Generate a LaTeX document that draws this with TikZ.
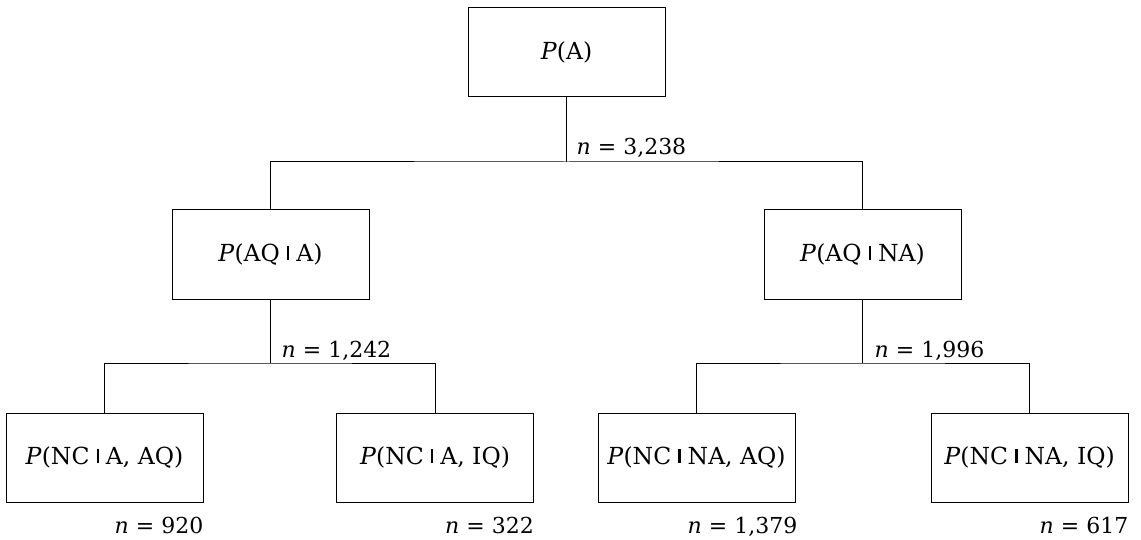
\documentclass[tikz,border=0pt]{standalone}
\usepackage{fontspec}
\setmainfont{DejaVu Serif}
\newcommand\cbar{\kern0.3em\rule[0.06em]{0.1em}{0.62em}\kern0.3em}
\begin{document}
\begin{tikzpicture}[x=1pt,y=-1pt,
  box/.style={draw, line width=1pt, minimum width=197pt, minimum height=89pt, inner sep=0pt, font=\fontsize{23.5}{28}\selectfont},
  lab/.style={font=\fontsize{22}{26}\selectfont, inner sep=0pt},
  conn/.style={line width=1pt}]
\useasboundingbox (0,0) rectangle (1141,540);
\node[box] (top) at (566.5,52) {\textit{P}(A)};
\node[box] (l) at (270.5,254.5) {\textit{P}(AQ\cbar A)};
\node[box] (r) at (862.5,254.5) {\textit{P}(AQ\cbar NA)};
\node[box] (ll) at (104.5,457.5) {\textit{P}(NC\cbar A, AQ)};
\node[box] (lr) at (435,457.5) {\textit{P}(NC\cbar A, IQ)};
\node[box] (rl) at (696.5,457.5) {\textit{P}(NC\cbar NA, AQ)};
\node[box] (rr) at (1029.5,457.5) {\textit{P}(NC\cbar NA, IQ)};
\coordinate (j1) at (566.5,162);
\coordinate (j2) at (270.5,363);
\coordinate (j3) at (862.5,363);
\draw[conn] (top.south) -- (j1);
\draw[conn] (l.north) |- (j1) -| (r.north);
\draw[conn] (l.south) -- (j2);
\draw[conn] (ll.north) |- (j2) -| (lr.north);
\draw[conn] (r.south) -- (j3);
\draw[conn] (rl.north) |- (j3) -| (rr.north);
\node[lab, anchor=base west] (n1) at ([shift={(10,-7)}]j1) {\textit{n} = 3,238};
\node[lab, anchor=base west] (n2) at ([shift={(11,-6)}]j2) {\textit{n} = 1,242};
\node[lab, anchor=base west] (n3) at ([shift={(12,-6)}]j3) {\textit{n} = 1,996};
\node[lab, anchor=base east] (n4) at ([shift={(0,31)}]ll.south east) {\textit{n} = 920};
\node[lab, anchor=base east] (n5) at ([shift={(0,31)}]lr.south east) {\textit{n} = 322};
\node[lab, anchor=base east] (n6) at ([shift={(2,31)}]rl.south east) {\textit{n} = 1,379};
\node[lab, anchor=base east] (n7) at ([shift={(0,31)}]rr.south east) {\textit{n} = 617};
\end{tikzpicture}
\end{document}
